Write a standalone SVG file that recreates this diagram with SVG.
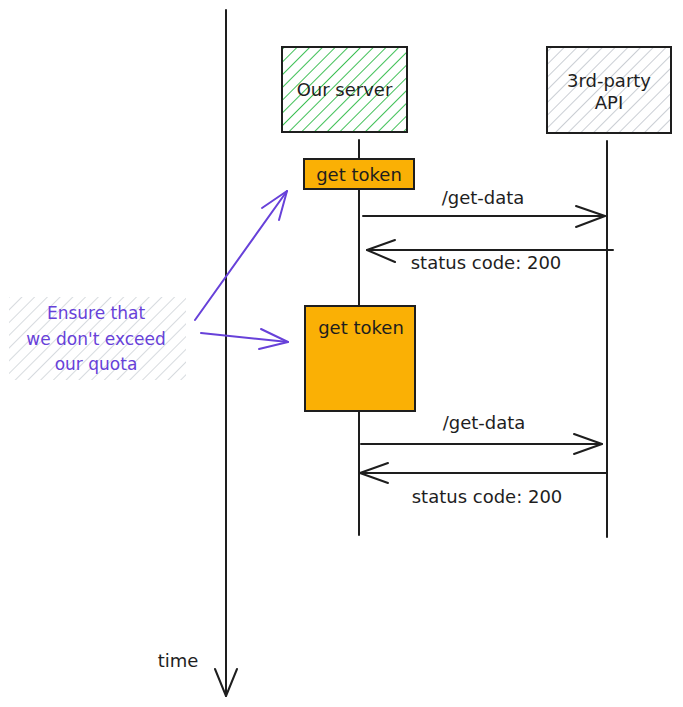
<svg xmlns="http://www.w3.org/2000/svg" width="683" height="707" viewBox="0 0 683 707">
<defs>
<pattern id="hatchGreen" patternUnits="userSpaceOnUse" width="9" height="9" patternTransform="rotate(45)">
<rect width="9" height="9" fill="#ffffff"/>
<line x1="0" y1="0" x2="0" y2="9" stroke="#40c057" stroke-width="2"/>
</pattern>
<pattern id="hatchGray" patternUnits="userSpaceOnUse" width="9" height="9" patternTransform="rotate(45)">
<rect width="9" height="9" fill="#ffffff"/>
<line x1="0" y1="0" x2="0" y2="9" stroke="#c4c9cf" stroke-width="1.8"/>
</pattern>
<pattern id="hatchNote" patternUnits="userSpaceOnUse" width="9" height="9" patternTransform="rotate(45)">
<rect width="9" height="9" fill="#ffffff"/>
<line x1="0" y1="0" x2="0" y2="9" stroke="#d3d7dc" stroke-width="1.8"/>
</pattern>
</defs>
<style>
text{font-family:"DejaVu Sans","Liberation Sans",sans-serif;font-size:18px;fill:#1e1e1e;text-anchor:middle}
.box{stroke:#1e1e1e;stroke-width:2}
.ln{stroke:#1e1e1e;stroke-width:2;fill:none;stroke-linecap:round;stroke-linejoin:round}
.pl{stroke:#6741d9;stroke-width:2;fill:none;stroke-linecap:round;stroke-linejoin:round}
.note{fill:#6741d9;font-size:17px}
.orange{fill:#fab005}
</style>
<rect width="683" height="707" fill="#ffffff"/>

<g id="time-axis">
<line class="ln" x1="226" y1="10" x2="226" y2="696"/>
<polyline class="ln" points="215,669 226,696 237,669"/>
<text x="178" y="667" font-size="16">time</text>
</g>

<g id="our-server">
<rect class="box" x="282" y="47" width="125" height="85" fill="url(#hatchGreen)"/>
<text x="344.5" y="96">Our server</text>
</g>

<g id="third-party-api">
<rect class="box" x="547" y="47" width="124" height="86" fill="url(#hatchGray)"/>
<text x="609" y="87">3rd-party</text>
<text x="609" y="109">API</text>
</g>

<g id="connectors">
<line class="ln" x1="359" y1="140" x2="359" y2="535"/>
<line class="ln" x1="607" y1="141" x2="607" y2="537"/>

<line class="ln" x1="363" y1="216" x2="605" y2="216"/>
<polyline class="ln" points="576,206 605,216 576,227"/>
<line class="ln" x1="613" y1="250" x2="367" y2="250"/>
<polyline class="ln" points="395,240 367,250 395,262"/>

<line class="ln" x1="361" y1="444" x2="602" y2="444"/>
<polyline class="ln" points="574,434 602,444 574,454"/>
<line class="ln" x1="607" y1="473" x2="360" y2="473"/>
<polyline class="ln" points="388,463 360,473 388,483"/>

<line class="pl" x1="195" y1="320" x2="287" y2="191"/>
<polyline class="pl" points="262,208 287,191 279,220"/>
<line class="pl" x1="201" y1="333" x2="288" y2="342"/>
<polyline class="pl" points="261,329 288,342 259,349"/>
</g>

<g id="labels">
<text x="483" y="204">/get-data</text>
<text x="486" y="269">status code: 200</text>
<text x="484" y="429">/get-data</text>
<text x="487" y="503">status code: 200</text>
</g>

<g id="get-token-1">
<rect class="box orange" x="304" y="159" width="110" height="30"/>
<text x="359" y="181">get token</text>
</g>

<g id="get-token-2">
<rect class="box orange" x="305" y="306" width="110" height="105"/>
<text x="361" y="334">get token</text>
</g>

<g id="note">
<rect x="9" y="297" width="177" height="83" fill="url(#hatchNote)"/>
<text class="note" x="96" y="319">Ensure that</text>
<text class="note" x="96" y="345">we don't exceed</text>
<text class="note" x="96" y="370">our quota</text>
</g>
</svg>
